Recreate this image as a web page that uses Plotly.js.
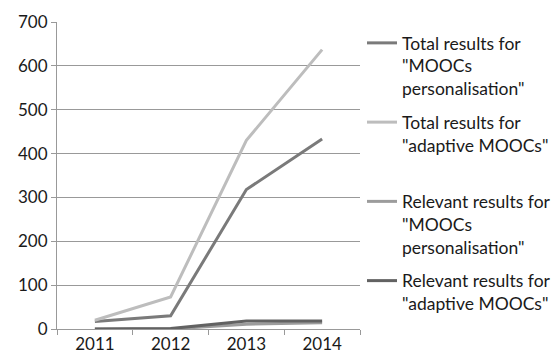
<!DOCTYPE html>
<html><head><meta charset="utf-8">
<script src="https://cdn.plot.ly/plotly-3.0.1.min.js"></script>
<style>html,body{margin:0;padding:0;background:#fff}#chart{width:555px;height:361px}</style>
</head><body><div id="chart"></div>
<script>
const years = ['2011', '2012', '2013', '2014'];
const totalPersonalisation = [17, 30, 318, 433];
const totalAdaptive = [20, 73, 430, 637];
const relevantPersonalisation = [0, 0, 11, 14];
const relevantAdaptive = [0, 1, 18, 18];
const seriesNames = [
  'Total results for<br>"MOOCs<br>personalisation"',
  'Total results for<br>"adaptive MOOCs"<br> ',
  'Relevant results for<br>"MOOCs<br>personalisation"',
  'Relevant results for<br>"adaptive MOOCs"'
];
const yTicks = [0, 100, 200, 300, 400, 500, 600, 700];

const colors = ['#7a7a7a', '#bdbdbd', '#9c9c9c', '#626262'];
const seriesData = [totalPersonalisation, totalAdaptive, relevantPersonalisation, relevantAdaptive];
const traces = seriesData.map((d, i) => ({
  x: years, y: d, type: 'scatter', mode: 'lines', name: seriesNames[i],
  line: {color: colors[i], width: 3}, legendgroup: 'g' + i
}));

const layout = {
  width: 555, height: 361,
  margin: {l: 57, r: 195, t: 22, b: 32},
  paper_bgcolor: '#fff', plot_bgcolor: '#fff',
  font: {family: 'Lato, "Open Sans", sans-serif', color: '#1a1a1a', size: 17},
  showlegend: true,
  legend: {
    x: 362/555, y: 1 - 25/361, xref: 'container', yref: 'container',
    xanchor: 'left', yanchor: 'top', valign: 'top',
    traceorder: 'grouped', tracegroupgap: 8, maxheight: 340,
    font: {size: 17.5, color: '#1a1a1a'}, bgcolor: 'rgba(0,0,0,0)', borderwidth: 0
  },
  xaxis: {
    type: 'category', range: [-0.5, 3.5], tickson: 'boundaries',
    ticks: 'outside', ticklen: 5, tickcolor: '#999', tickwidth: 1,
    showline: true, linecolor: '#999', linewidth: 1, showgrid: false,
    tickfont: {size: 17}, fixedrange: true
  },
  yaxis: {
    range: [0, 700], tickvals: yTicks, ticks: 'outside', ticklen: 5,
    tickcolor: '#999', showline: true, linecolor: '#999', linewidth: 1,
    gridcolor: '#999', gridwidth: 1, zeroline: false,
    tickfont: {size: 17}, ticksuffix: ' ', fixedrange: true
  }
};
Plotly.newPlot('chart', traces, layout, {displayModeBar: false, staticPlot: true});
</script></body></html>
